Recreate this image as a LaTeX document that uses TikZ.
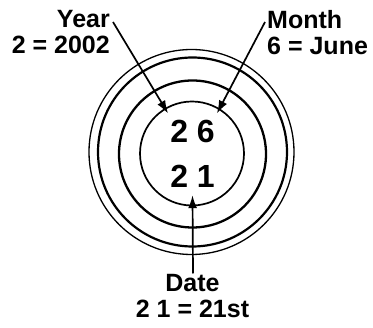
\documentclass[tikz,border=0pt]{standalone}
\usepackage{fontspec}
\setmainfont{Liberation Sans}
\usepackage{tikz}
\usetikzlibrary{arrows.meta,positioning,calc}

\begin{document}
\begin{tikzpicture}[
    x=1pt, y=-1pt,
    ring/.style={draw=black, line width=1.9pt},
    thin_ring/.style={draw=black, line width=1.3pt},
    label/.style={inner sep=0pt, font=\fontsize{25}{26}\selectfont\bfseries},
    code/.style={inner xsep=2pt, inner ysep=7pt, font=\fontsize{32}{32}\selectfont\bfseries},
    line/.style={draw, line width=1.7pt, -{Latex[length=13pt,width=9pt]}}
]
\useasboundingbox (0,0) rectangle (373,328);

% Rings
\draw[ring, line width=1.7pt] (192,153.5) circle (52);
\draw[ring, line width=2.3pt] (192.5,154) circle (73.5);
\draw[ring, line width=2.2pt] (192.5,152) circle (94.5);
\draw[thin_ring] (191.5,152) circle (102.5);

% Nodes
\node[code, anchor=base] (ym) at (192.5,143) {2 6};
\node[code, anchor=base] (dd) at (192.5,188) {2 1};

\node[label, align=right, anchor=north east] (year) at (110,10) {Year\\2 = 2002};
\node[label, align=left, anchor=north west] (month) at (267,10) {Month\\6 = June};
\node[label, align=center, anchor=north] (date) at (192.5,274.5) {Date\\2 1 = 21st};

% Connections
\path[line] ([shift={(3,12)}]year.north east) -- (ym.north west);
\path[line] ([shift={(-2,12)}]month.north west) -- (ym.north east);
\path[line] ([shift={(0.5,-1)}]date.north) -- (dd.south);

\end{tikzpicture}
\end{document}
